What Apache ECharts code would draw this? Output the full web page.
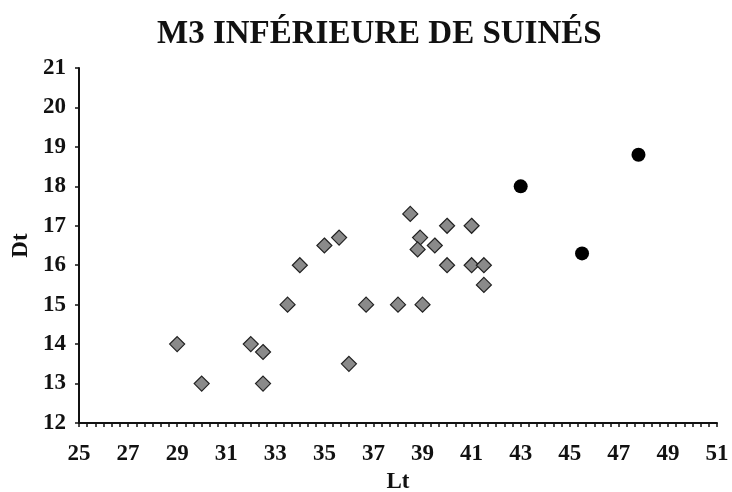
<!DOCTYPE html>
<html>
<head>
<meta charset="utf-8">
<script src="https://cdn.jsdelivr.net/npm/echarts@6/dist/echarts.min.js"></script>
<style>
  html, body { margin: 0; padding: 0; background: #fff; }
  #chart { width: 732px; height: 492px; }
</style>
</head>
<body>
<div id="chart"></div>
<script>
// données : [Lt, Dt]
var diamondPoints = [
  [29, 14], [30, 13], [32, 14], [32.5, 13.8], [32.5, 13],
  [33.5, 15], [34, 16], [35, 16.5], [35.6, 16.7], [36, 13.5],
  [36.7, 15], [38, 15], [39, 15], [38.5, 17.3], [38.9, 16.7],
  [38.8, 16.4], [39.5, 16.5], [40, 17], [40, 16], [41, 17],
  [41, 16], [41.5, 16], [41.5, 15.5]
]
var circlePoints = [[43, 18], [45.5, 16.3], [47.8, 18.8]]
var xTicks = { min: 25, max: 51, step: 2 }
var yTicks = { min: 12, max: 21, step: 1 }

var serif = '"Liberation Serif", "Times New Roman", serif'
var chart = echarts.init(document.getElementById('chart'))

var option = {
  animation: false,
  title: {
    text: 'M3 INFÉRIEURE DE SUINÉS',
    left: 152,
    top: 13,
    textStyle: { fontFamily: serif, fontWeight: 'bold', fontSize: 33, color: '#111' }
  },
  grid: { left: 79, right: 15, top: 68, bottom: 69, containLabel: false, outerBoundsMode: 'none' },
  xAxis: {
    type: 'value',
    min: xTicks.min,
    max: xTicks.max,
    interval: xTicks.step,
    name: 'Lt',
    nameLocation: 'middle',
    nameGap: 48,
    nameTextStyle: { fontFamily: serif, fontWeight: 'bold', fontSize: 23, color: '#111' },
    axisLine: { lineStyle: { color: '#111', width: 2 } },
    axisTick: { show: true, length: 4, inside: false, lineStyle: { color: '#111', width: 1.5 } },
    minorTick: { show: true, splitNumber: 6, length: 4, lineStyle: { color: '#111', width: 1.5 } },
    axisLabel: { fontFamily: serif, fontWeight: 'bold', fontSize: 23, color: '#111', margin: 20 },
    splitLine: { show: false }
  },
  yAxis: {
    type: 'value',
    min: yTicks.min,
    max: yTicks.max,
    interval: yTicks.step,
    name: 'Dt',
    nameLocation: 'middle',
    nameGap: 46,
    nameRotate: 90,
    nameTextStyle: { fontFamily: serif, fontWeight: 'bold', fontSize: 23, color: '#111' },
    axisLine: { show: true, lineStyle: { color: '#111', width: 2 } },
    axisTick: { show: true, length: 4, lineStyle: { color: '#111', width: 1.5 } },
    axisLabel: { fontFamily: serif, fontWeight: 'bold', fontSize: 23, color: '#111', margin: 13 },
    splitLine: { show: false }
  },
  series: [
    {
      name: 'losange',
      type: 'scatter',
      symbol: 'diamond',
      symbolSize: 15,
      itemStyle: { color: '#8a8a8a', borderColor: '#222', borderWidth: 1.2, opacity: 1 },
      data: diamondPoints
    },
    {
      name: 'cercle',
      type: 'scatter',
      symbol: 'circle',
      symbolSize: 14,
      itemStyle: { color: '#000', opacity: 1 },
      data: circlePoints
    }
  ]
}
chart.setOption(option)
</script>
</body>
</html>
